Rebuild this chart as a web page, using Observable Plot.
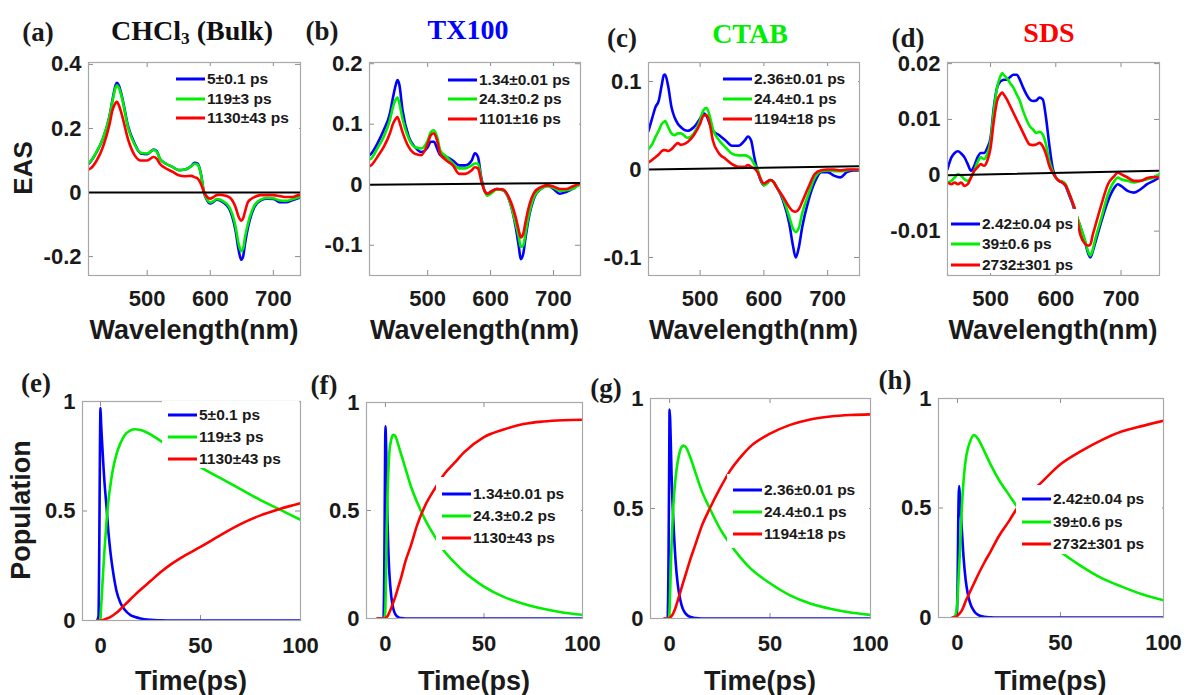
<!DOCTYPE html>
<html><head><meta charset="utf-8">
<script src="https://cdn.jsdelivr.net/npm/d3@7"></script>
<script src="https://cdn.jsdelivr.net/npm/@observablehq/plot@0.6"></script>
<style>
html,body{margin:0;padding:0;background:#fff;}
#fig{position:relative;width:1187px;height:695px;overflow:hidden;background:#fff;}
.t{position:absolute;white-space:nowrap;line-height:1;transform:translate(-50%,-50%);}
.sans{font-family:"Liberation Sans",Arial,sans-serif;font-weight:bold;color:#1a1a1a;}
.serif{font-family:"Liberation Serif","Times New Roman",serif;font-weight:bold;color:#1a1a1a;}
.leg{position:absolute;background:#fff;}
.legtxt{position:absolute;font-family:"Liberation Sans",Arial,sans-serif;font-weight:bold;font-size:15.5px;color:#1a1a1a;line-height:1;white-space:nowrap;transform:translateY(-50%);}
.legline{position:absolute;height:3px;width:29px;transform:translateY(-50%);}
</style></head><body><div id="fig"></div><script>
// ---------- DATA ----------
const colors = ["#0000ff", "#00ee00", "#ff0000"];

// (a) CHCl3 (Bulk) EAS
const wlA = [407,410,420,430,440,445,450,452,455,460,470,480,490,500,510,515,520,530,540,550,560,570,575,580,585,590,595,600,605,610,615,620,630,640,645,649,652,655,660,670,680,690,700,710,720,730,740,743];
const easA1 = [0.09,0.096,0.127,0.169,0.236,0.289,0.335,0.343,0.335,0.30,0.205,0.153,0.122,0.12,0.134,0.13,0.106,0.09,0.08,0.07,0.072,0.083,0.093,0.09,0.06,0.0,-0.024,-0.034,-0.029,-0.022,-0.024,-0.03,-0.05,-0.118,-0.18,-0.21,-0.2,-0.16,-0.107,-0.045,-0.024,-0.019,-0.02,-0.03,-0.03,-0.024,-0.017,-0.015];
const easA2 = [0.092,0.097,0.128,0.17,0.235,0.285,0.328,0.335,0.328,0.295,0.2,0.15,0.124,0.122,0.133,0.128,0.106,0.09,0.08,0.07,0.072,0.082,0.09,0.087,0.058,0.0,-0.022,-0.031,-0.027,-0.02,-0.022,-0.027,-0.045,-0.105,-0.16,-0.183,-0.175,-0.14,-0.095,-0.04,-0.022,-0.017,-0.018,-0.025,-0.026,-0.021,-0.015,-0.013];
const easA3 = [0.072,0.075,0.1,0.143,0.21,0.257,0.28,0.283,0.273,0.242,0.164,0.117,0.1,0.1,0.111,0.106,0.09,0.075,0.065,0.054,0.051,0.052,0.048,0.044,0.028,0.002,-0.014,-0.019,-0.014,-0.008,-0.007,-0.008,-0.014,-0.045,-0.076,-0.088,-0.081,-0.06,-0.029,-0.014,-0.008,-0.008,-0.008,-0.011,-0.014,-0.014,-0.008,-0.007];
const zeroAx = [407,743], zeroAy = [0,0];

// (b) TX100 EAS
const wlB = [408,410,420,430,440,445,450,452,455,460,470,480,490,500,505,510,515,520,530,540,550,560,570,575,580,585,590,595,600,610,620,630,640,645,648,652,655,660,670,680,690,700,710,720,730,740,743];
const easB1 = [0.049,0.051,0.068,0.09,0.118,0.145,0.168,0.173,0.165,0.123,0.079,0.062,0.054,0.062,0.071,0.071,0.06,0.049,0.046,0.04,0.032,0.032,0.04,0.052,0.046,0.013,-0.009,-0.015,-0.012,-0.007,-0.009,-0.026,-0.07,-0.103,-0.123,-0.114,-0.092,-0.059,-0.02,-0.007,-0.001,-0.007,-0.015,-0.012,-0.007,0,0.001];
const easB2 = [0.042,0.043,0.06,0.079,0.107,0.129,0.142,0.144,0.134,0.109,0.076,0.062,0.06,0.073,0.087,0.09,0.079,0.057,0.046,0.035,0.027,0.027,0.032,0.035,0.035,0.01,-0.009,-0.018,-0.015,-0.008,-0.009,-0.026,-0.065,-0.087,-0.103,-0.1,-0.084,-0.054,-0.018,-0.007,-0.003,-0.005,-0.01,-0.009,-0.007,-0.001,0];
const easB3 = [0.031,0.032,0.046,0.062,0.085,0.101,0.11,0.112,0.104,0.087,0.062,0.051,0.049,0.068,0.082,0.085,0.073,0.051,0.04,0.032,0.018,0.018,0.024,0.029,0.027,0.007,-0.009,-0.015,-0.012,-0.007,-0.008,-0.023,-0.054,-0.076,-0.087,-0.081,-0.065,-0.04,-0.012,-0.004,-0.001,-0.003,-0.007,-0.007,-0.003,0.001,0.002];
const zeroBx = [407.5,743], zeroBy = [0,0.003];

// (c) CTAB EAS
const wlC = [419,425,430,435,440,443,445,450,455,460,465,470,480,490,500,505,510,515,520,530,540,550,560,570,575,580,585,590,595,600,605,610,615,620,630,640,645,650,655,660,670,680,690,700,710,720,730,740,750];
const easC1 = [0.044,0.059,0.071,0.078,0.097,0.107,0.108,0.094,0.071,0.059,0.052,0.048,0.044,0.048,0.058,0.064,0.061,0.052,0.044,0.039,0.033,0.027,0.027,0.033,0.0375,0.033,0.014,-0.001,-0.0125,-0.018,-0.014,-0.012,-0.014,-0.02,-0.035,-0.062,-0.084,-0.1,-0.088,-0.066,-0.035,-0.014,-0.003,-0.003,-0.007,-0.009,-0.003,-0.001,-0.001];
const easC2 = [0.023,0.029,0.037,0.044,0.052,0.054,0.055,0.048,0.041,0.039,0.041,0.041,0.036,0.041,0.056,0.067,0.07,0.061,0.046,0.033,0.025,0.018,0.016,0.016,0.015,0.012,0.006,0,-0.011,-0.018,-0.016,-0.0125,-0.014,-0.02,-0.033,-0.054,-0.066,-0.071,-0.066,-0.05,-0.028,-0.009,-0.002,-0.001,-0.002,-0.002,-0.001,0,-0.001];
const easC3 = [0.008,0.011,0.014,0.017,0.021,0.022,0.022,0.021,0.023,0.027,0.03,0.028,0.031,0.039,0.052,0.061,0.062,0.052,0.033,0.018,0.012,0.006,0.003,0.003,0.005,0.003,0.001,-0.003,-0.011,-0.016,-0.014,-0.012,-0.014,-0.02,-0.031,-0.043,-0.047,-0.048,-0.045,-0.037,-0.02,-0.005,-0.001,0,0,-0.001,0,0,0];
const zeroCx = [419,750], zeroCy = [0,0.0038];

// (d) SDS EAS
const wlD = [434,440,445,450,455,460,465,470,475,480,485,490,495,500,505,510,515,518,520,525,530,535,540,545,550,555,560,565,570,575,580,585,590,595,600,605,610,615,620,625,630,638,645,650,653,657,660,670,680,690,695,700,710,720,730,740,750,759];
const easD1 = [0.0011,0.0032,0.004,0.0043,0.0039,0.0032,0.002,0.0008,0.0017,0.0032,0.004,0.004,0.0049,0.0067,0.0121,0.0157,0.0168,0.017,0.0171,0.0171,0.0176,0.018,0.018,0.0171,0.0157,0.0145,0.0136,0.0133,0.0134,0.0139,0.0136,0.0103,0.0055,0.0014,-0.0004,-0.001,-0.0013,-0.0019,-0.0034,-0.0049,-0.0067,-0.0093,-0.012,-0.0141,-0.0147,-0.0135,-0.0123,-0.0082,-0.0046,-0.0022,-0.0016,-0.0019,-0.0028,-0.0031,-0.0025,-0.0016,-0.001,-0.0004];
const easD2 = [-0.0013,-0.001,-0.0004,0.0002,-0.0001,-0.0007,-0.001,-0.0004,0.0008,0.0023,0.0032,0.0029,0.0038,0.0061,0.0115,0.0157,0.0177,0.0183,0.018,0.0174,0.0165,0.0157,0.0145,0.0133,0.0115,0.01,0.0088,0.0082,0.0076,0.0078,0.0073,0.0055,0.0026,0.0008,-0.0004,-0.001,-0.0011,-0.0016,-0.0031,-0.0046,-0.0064,-0.0093,-0.0117,-0.0138,-0.0144,-0.0132,-0.0117,-0.0076,-0.0034,-0.001,-0.0004,-0.0007,-0.001,-0.0013,-0.001,-0.0007,-0.0004,0.0002];
const easD3 = [-0.0013,-0.0016,-0.0013,-0.0016,-0.0013,-0.0019,-0.0016,-0.0004,0.0008,0.0014,0.002,0.0017,0.0026,0.0049,0.0097,0.0133,0.0145,0.0148,0.0145,0.0136,0.0124,0.0112,0.01,0.0088,0.0076,0.0064,0.0055,0.0054,0.0055,0.0058,0.0052,0.0038,0.0017,0.0005,-0.0004,-0.001,-0.0013,-0.0018,-0.0031,-0.0046,-0.0063,-0.0108,-0.0123,-0.0126,-0.0124,-0.0105,-0.0093,-0.0052,-0.0016,-0.0001,0.0005,0.0002,-0.0004,-0.001,-0.001,-0.0005,-0.0003,-0.0004];
const zeroDx = [434,759], zeroDy = [0,0.0008];

// (e) CHCl3 populations
const tE = [-1.7,-1,-0.6,-0.3,0,0.3,0.7,1,1.5,2,3,4,5,6,8,10,12,15,17,20,25,30,35,40,50,60,70,80,90,100];
const popE1 = [0,0.02,0.35,0.75,0.97,0.9,0.83,0.78,0.7,0.63,0.52,0.4,0.31,0.24,0.135,0.08,0.05,0.025,0.017,0.009,0.003,0.001,0,0,0,0,0,0,0,0];
const popE2 = [0,0,0,0,0.01,0.06,0.12,0.17,0.25,0.32,0.45,0.55,0.62,0.68,0.76,0.81,0.845,0.868,0.873,0.87,0.85,0.82,0.79,0.76,0.7,0.65,0.6,0.55,0.505,0.46];
const popE3 = [0,0,0,0,0,0,0.001,0.002,0.003,0.005,0.008,0.012,0.016,0.022,0.035,0.052,0.07,0.097,0.115,0.14,0.18,0.22,0.255,0.285,0.336,0.39,0.44,0.48,0.51,0.535];

// (f) TX100 populations
const tF = [-4,-1,-0.5,-0.2,0,0.3,0.7,1,1.5,2,3,4,5,6,7,8,10,13,16,20,25,30,35,40,50,60,70,80,90,100];
const popF1 = [0,0,0.3,0.7,0.89,0.82,0.6,0.47,0.31,0.21,0.1,0.045,0.02,0.009,0.004,0.002,0,0,0,0,0,0,0,0,0,0,0,0,0,0];
const popF2 = [0,0,0,0.02,0.05,0.2,0.42,0.55,0.68,0.77,0.83,0.85,0.845,0.82,0.79,0.76,0.7,0.61,0.54,0.46,0.38,0.31,0.26,0.215,0.148,0.1,0.068,0.045,0.028,0.017];
const popF3 = [0,0,0,0,0.002,0.004,0.007,0.01,0.018,0.028,0.05,0.075,0.1,0.13,0.16,0.19,0.26,0.34,0.43,0.52,0.6,0.67,0.72,0.77,0.84,0.875,0.9,0.912,0.918,0.92];

// (g) CTAB populations
const tG = [-2.5,-1,-0.5,-0.2,0,0.3,0.7,1,1.5,2,3,4,5,6,6.8,8,10,13,16,20,25,30,35,40,50,60,70,80,90,100];
const popG1 = [0,0,0.3,0.7,0.95,0.9,0.76,0.65,0.52,0.42,0.26,0.16,0.1,0.06,0.04,0.022,0.008,0.002,0,0,0,0,0,0,0,0,0,0,0,0];
const popG2 = [0,0,0,0.01,0.04,0.13,0.26,0.34,0.45,0.53,0.64,0.71,0.755,0.78,0.786,0.78,0.74,0.66,0.58,0.5,0.41,0.34,0.28,0.23,0.16,0.105,0.068,0.044,0.027,0.016];
const popG3 = [0,0,0,0,0.003,0.005,0.008,0.012,0.018,0.027,0.05,0.08,0.11,0.14,0.165,0.2,0.26,0.34,0.42,0.5,0.59,0.67,0.73,0.78,0.84,0.88,0.905,0.918,0.925,0.928];

// (h) SDS populations
const tH = [-2.3,-1,-0.5,0,0.4,0.8,1.2,2,3,4,5,6,8,10,13,16,20,25,29,35,40,50,60,70,80,90,100];
const popH1 = [0,0,0,0.1,0.45,0.6,0.55,0.42,0.27,0.17,0.11,0.07,0.03,0.012,0.003,0.001,0,0,0,0,0,0,0,0,0,0,0];
const popH2 = [0,0.01,0.03,0.08,0.15,0.23,0.3,0.48,0.63,0.72,0.77,0.8,0.833,0.815,0.76,0.7,0.63,0.56,0.505,0.43,0.38,0.3,0.235,0.18,0.14,0.105,0.079];
const popH3 = [0,0.002,0.004,0.008,0.012,0.016,0.02,0.03,0.05,0.075,0.095,0.115,0.155,0.195,0.25,0.3,0.37,0.44,0.5,0.565,0.61,0.7,0.76,0.81,0.85,0.875,0.898];

// tick values and texts
const wlTicks = [500,600,700];
const tTicks = [0,50,100];
const popTicks = [0,0.5,1];
const yTicksA = [-0.2,0,0.2,0.4];
const yTicksB = [-0.1,0,0.1,0.2];
const yTicksC = [-0.1,0,0.1];
const yTicksD = [-0.01,0,0.01,0.02];
const legA = ["5±0.1 ps","119±3 ps","1130±43 ps"];
const legB = ["1.34±0.01 ps","24.3±0.2 ps","1101±16 ps"];
const legC = ["2.36±0.01 ps","24.4±0.1 ps","1194±18 ps"];
const legD = ["2.42±0.04 ps","39±0.6 ps","2732±301 ps"];
const legE = ["5±0.1 ps","119±3 ps","1130±43 ps"];
const legF = ["1.34±0.01 ps","24.3±0.2 ps","1130±43 ps"];
const legG = ["2.36±0.01 ps","24.4±0.1 ps","1194±18 ps"];
const legH = ["2.42±0.04 ps","39±0.6 ps","2732±301 ps"];

// ---------- LAYOUT ----------
const fig = document.getElementById("fig");
const panels = [
  {fl:88, ft:62, w:212, h:213, xd:[407,743], yd:[-0.259,0.406], xt:wlTicks, yt:yTicksA, xpad:15,
   series:[[wlA,easA1],[wlA,easA2],[wlA,easA3]], zero:[zeroAx,zeroAy], leg:legA,
   legBox:[170,66,299,129], legX:176, legRows:[79,99,118]},
  {fl:369, ft:62, w:211, h:213, xd:[407.5,743], yd:[-0.15,0.202], xt:wlTicks, yt:yTicksB, xpad:15,
   series:[[wlB,easB1],[wlB,easB2],[wlB,easB3]], zero:[zeroBx,zeroBy], leg:legB,
   legBox:[442,66,579,129], legX:448, legRows:[80,99,119]},
  {fl:648, ft:62, w:211, h:213, xd:[419,750], yd:[-0.1205,0.1216], xt:wlTicks, yt:yTicksC, xpad:15,
   series:[[wlC,easC1],[wlC,easC2],[wlC,easC3]], zero:[zeroCx,zeroCy], leg:legC,
   legBox:[717,66,858,129], legX:723, legRows:[79,99,119]},
  {fl:947, ft:62, w:212, h:213, xd:[434,759], yd:[-0.01795,0.0202], xt:wlTicks, yt:yTicksD, xpad:15,
   series:[[wlD,easD1],[wlD,easD2],[wlD,easD3]], zero:[zeroDx,zeroDy], leg:legD,
   legBox:[948,209,1078,273], legX:951, legRows:[224,244,265]},
  {fl:82, ft:401, w:218, h:219, xd:[-9,100], yd:[0,1], xt:tTicks, yt:popTicks, xpad:17,
   series:[[tE,popE1],[tE,popE2],[tE,popE3]], leg:legE,
   legBox:[162,401,299,468], legX:168, legRows:[415,437,459]},
  {fl:366, ft:402, w:216, h:216, xd:[-9.6,100], yd:[0,1], xt:tTicks, yt:popTicks, xpad:17,
   series:[[tF,popF1],[tF,popF2],[tF,popF3]], leg:legF,
   legBox:[436,477,581,550], legX:442, legRows:[494,516,538]},
  {fl:650, ft:398, w:220, h:220, xd:[-9.5,100], yd:[0,1], xt:tTicks, yt:popTicks, xpad:17,
   series:[[tG,popG1],[tG,popG2],[tG,popG3]], leg:legG,
   legBox:[727,474,869,548], legX:733, legRows:[490,512,534]},
  {fl:938, ft:398, w:225, h:219, xd:[-9.2,100], yd:[0,1], xt:tTicks, yt:popTicks, xpad:17,
   series:[[tH,popH1],[tH,popH2],[tH,popH3]], leg:legH,
   legBox:[1016,485,1162,554], legX:1022, legRows:[499,522,544]}
];

function addText(html, x, y, cls, size, color, rotate) {
  const d = document.createElement("div");
  d.className = "t " + cls;
  d.innerHTML = html;
  d.style.left = x + "px"; d.style.top = y + "px";
  d.style.fontSize = size + "px";
  if (color) d.style.color = color;
  if (rotate) d.style.transform = "translate(-50%,-50%) rotate(-90deg)";
  fig.appendChild(d);
}

const mL = 70, mR = 12, mT = 10, mB = 44;
panels.forEach(p => {
  const W = p.w, H = p.h;
  const marks = [
    Plot.tickX(p.xt, {x: d => d, stroke: "#8c8c8c", strokeWidth: 1, insetTop: H - 5}),
    Plot.tickX(p.xt, {x: d => d, stroke: "#8c8c8c", strokeWidth: 1, insetBottom: H - 5}),
    Plot.tickY(p.yt, {y: d => d, stroke: "#8c8c8c", strokeWidth: 1, insetRight: W - 5}),
    Plot.tickY(p.yt, {y: d => d, stroke: "#8c8c8c", strokeWidth: 1, insetLeft: W - 5}),
    Plot.axisX(p.xt, {tickSize: 0, tickPadding: p.xpad, tickFormat: d => String(d), label: null}),
    Plot.axisY(p.yt, {tickSize: 0, tickPadding: 7, tickFormat: d => String(d), label: null})
  ];
  p.series.forEach(([xs, ys], k) => {
    marks.push(Plot.line(xs.map((x, i) => ({x, y: ys[i]})),
      {x: "x", y: "y", stroke: colors[k], strokeWidth: 2.6, curve: "monotone-x", clip: true}));
  });
  if (p.zero) {
    const [zx, zy] = p.zero;
    marks.push(Plot.line(zx.map((x, i) => ({x, y: zy[i]})), {x: "x", y: "y", stroke: "#000", strokeWidth: 2, clip: true}));
  }
  marks.push(Plot.frame({stroke: "#a8a8a8", strokeWidth: 1.2}));
  const svg = Plot.plot({
    width: W + mL + mR, height: H + mT + mB,
    marginLeft: mL, marginRight: mR, marginTop: mT, marginBottom: mB,
    x: {domain: p.xd}, y: {domain: p.yd},
    style: {fontFamily: '"Liberation Sans", Arial, sans-serif', fontWeight: "bold", fontSize: "22px",
            color: "#1a1a1a", background: "transparent", overflow: "visible"},
    marks
  });
  svg.style.position = "absolute";
  svg.style.left = (p.fl - mL) + "px";
  svg.style.top = (p.ft - mT) + "px";
  fig.appendChild(svg);

  // legend with white background (MATLAB style, no border)
  const [bx0, by0, bx1, by1] = p.legBox;
  const box = document.createElement("div");
  box.className = "leg";
  box.style.left = bx0 + "px"; box.style.top = by0 + "px";
  box.style.width = (bx1 - bx0) + "px"; box.style.height = (by1 - by0) + "px";
  fig.appendChild(box);
  p.leg.forEach((txt, k) => {
    const ln = document.createElement("div");
    ln.className = "legline";
    ln.style.left = p.legX + "px"; ln.style.top = p.legRows[k] + "px";
    ln.style.background = colors[k];
    fig.appendChild(ln);
    const tx = document.createElement("div");
    tx.className = "legtxt";
    tx.textContent = txt;
    tx.style.left = (p.legX + 31) + "px"; tx.style.top = p.legRows[k] + "px";
    fig.appendChild(tx);
  });

  // axis labels
  const cx = p.fl + W / 2;
  if (p.ft < 200) addText("Wavelength(nm)", cx, 330, "sans", 27);
  else addText("Time(ps)", cx, 681, "sans", 27);
});

// panel letters and titles
const letters = [["(a)",38,32],["(b)",322,31],["(c)",622,38],["(d)",908,38],["(e)",36,383],["(f)",324,385],["(g)",606,388],["(h)",895,380]];
letters.forEach(([s, x, y]) => addText(s, x, y, "serif", 27));
addText('CHCl<sub style="font-size:0.62em;vertical-align:-0.25em">3</sub> (Bulk)', 192, 32, "serif", 28, "#111");
addText("TX100", 468, 30, "serif", 28, "#0000ff");
addText("CTAB", 750, 34, "serif", 28, "#00ee00");
addText("SDS", 1049, 33, "serif", 28, "#ff0000");
addText("EAS", 23, 168, "sans", 26, null, true);
addText("Population", 21, 510, "sans", 27, null, true);
</script></body></html>
